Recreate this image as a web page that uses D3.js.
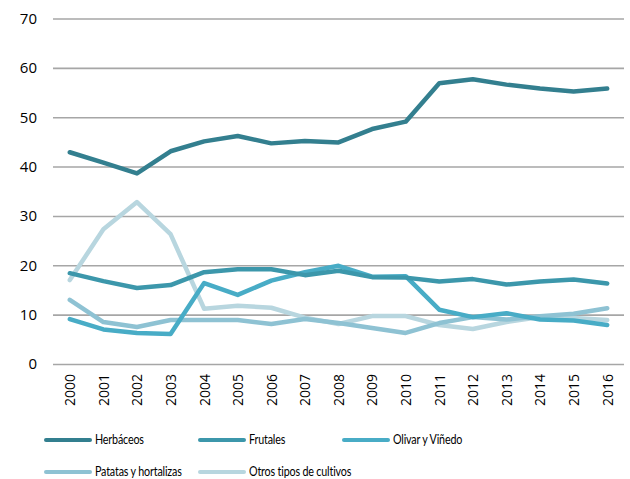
<!DOCTYPE html>
<html>
<head>
<meta charset="utf-8">
<script src="https://cdn.jsdelivr.net/npm/d3@7"></script>
<style>
	body { margin: 0; background: #fff; }
	svg text { font-family: "Open Sans", "DejaVu Sans", sans-serif; fill: #000; }
	svg .legend text { font-family: Lato, "Open Sans", sans-serif; }
</style>
</head>
<body>
<div id="chart"></div>
<script>
(function() {
	"use strict";

	var years = ["2000", "2001", "2002", "2003", "2004", "2005", "2006", "2007", "2008",
		"2009", "2010", "2011", "2012", "2013", "2014", "2015", "2016"];
	var yTicks = [0, 10, 20, 30, 40, 50, 60, 70];

	var seriesNames = ["Herbáceos", "Frutales", "Olivar y Viñedo", "Patatas y hortalizas", "Otros tipos de cultivos"];
	var seriesColors = ["#337f8f", "#3c97ab", "#48acc6", "#8ec2d3", "#b8d6df"];

	var herbaceos = [42.9, 40.8, 38.6, 43.1, 45.1, 46.2, 44.7, 45.2, 44.9, 47.6, 49.1, 56.9, 57.7, 56.6, 55.8, 55.2, 55.8];
	var frutales = [18.4, 16.8, 15.4, 16.0, 18.6, 19.2, 19.2, 18.0, 18.9, 17.6, 17.5, 16.7, 17.2, 16.1, 16.7, 17.1, 16.3];
	var olivar = [9.1, 7.0, 6.3, 6.1, 16.4, 14.0, 16.9, 18.6, 19.9, 17.7, 17.8, 11.0, 9.5, 10.3, 9.0, 8.8, 7.9];
	var patatas = [13.0, 8.5, 7.5, 8.9, 8.9, 8.9, 8.1, 9.1, 8.3, 7.3, 6.3, 8.3, 9.5, 9.0, 9.7, 10.2, 11.3];
	var otros = [17.0, 27.3, 32.8, 26.3, 11.2, 11.8, 11.4, 9.4, 8.1, 9.7, 9.7, 7.9, 7.1, 8.5, 9.5, 9.3, 8.9];

	var series = [herbaceos, frutales, olivar, patatas, otros];

	var width = 630, height = 479;
	var margin = { left: 53, right: 6, top: 18.5, bottom: 115 };

	var svg = d3.select("#chart").append("svg")
		.attr("width", width)
		.attr("height", height);

	var x = d3.scalePoint()
		.domain(years)
		.range([margin.left, width - margin.right])
		.padding(0.5);

	var y = d3.scaleLinear()
		.domain([0, 70])
		.range([height - margin.bottom, margin.top]);

	// gridlines + y labels
	var yAxis = svg.append("g")
		.attr("transform", "translate(" + margin.left + ",0)")
		.call(d3.axisLeft(y)
			.tickValues(yTicks)
			.tickSize(-(width - margin.left - margin.right))
			.tickPadding(16));
	yAxis.select(".domain").remove();
	yAxis.selectAll(".tick line")
		.attr("stroke", "#a6a6a6")
		.attr("stroke-width", 1.6);
	yAxis.selectAll(".tick text")
		.style("font-size", "15px");

	// x labels, rotated
	var xAxis = svg.append("g")
		.attr("transform", "translate(0," + y(0) + ")")
		.call(d3.axisBottom(x).tickSize(0));
	xAxis.select(".domain").remove();
	xAxis.selectAll(".tick text")
		.style("font-size", "14px")
		.attr("text-anchor", "end")
		.attr("transform", "rotate(-90)")
		.attr("x", -10)
		.attr("y", 0)
		.attr("dy", "0.35em");

	var line = d3.line()
		.x(function(d, i) { return x(years[i]); })
		.y(function(d) { return y(d); });

	// lightest series at the back
	var order = [4, 3, 2, 1, 0];
	svg.append("g").selectAll("path")
		.data(order)
		.enter()
		.append("path")
		.attr("d", function(k) { return line(series[k]); })
		.attr("fill", "none")
		.attr("stroke", function(k) { return seriesColors[k]; })
		.attr("stroke-width", 4.5)
		.attr("stroke-linejoin", "round")
		.attr("stroke-linecap", "round");

	// legend
	var legendPos = [[46, 440], [200, 440], [344, 440], [46, 472], [200, 472]];
	var legend = svg.append("g").attr("class", "legend").selectAll("g")
		.data(seriesNames)
		.enter()
		.append("g")
		.attr("transform", function(d, i) {
			return "translate(" + legendPos[i][0] + "," + legendPos[i][1] + ")";
		});
	legend.append("line")
		.attr("x1", 0).attr("x2", 44)
		.attr("y1", 0).attr("y2", 0)
		.attr("stroke", function(d, i) { return seriesColors[i]; })
		.attr("stroke-width", 4)
		.attr("stroke-linecap", "round");
	// narrow the text a bit, the original font is condensed
	legend.append("text")
		.attr("transform", "translate(49,0) scale(0.86,1)")
		.attr("dy", "0.35em")
		.style("font-size", "12.5px")
		.style("letter-spacing", "-0.2px")
		.text(function(d) { return d; });
})();
</script>
</body>
</html>
